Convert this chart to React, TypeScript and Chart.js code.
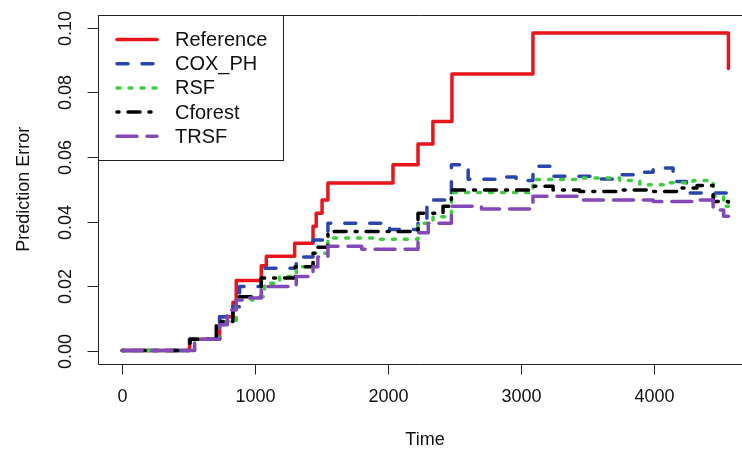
import React, { useEffect, useRef } from 'react';
import { Chart, registerables } from 'chart.js';

Chart.register(...registerables);

// ---- data ----
const xTicks = [0, 1000, 2000, 3000, 4000];
const yTicks = [0, 0.02, 0.04, 0.06, 0.08, 0.1];
const yTickLabels = ['0.00', '0.02', '0.04', '0.06', '0.08', '0.10'];
const seriesNames = ['Reference', 'COX_PH', 'RSF', 'Cforest', 'TRSF'];

const refTime = [0, 506, 732, 832, 857, 1045, 1083, 1296, 1434, 1458, 1502, 1546, 2035, 2223, 2335, 2478, 3087, 4526, 4556];
const refError = [0, 0.0035, 0.0105, 0.015, 0.0217, 0.0263, 0.0292, 0.0333, 0.0385, 0.0426, 0.0467, 0.0519, 0.0576, 0.064, 0.071, 0.0857, 0.0984, 0.0984, 0.0874];

const coxTime = [0, 506, 732, 832, 882, 1045, 1308, 1434, 1546, 2010, 2223, 2290, 2336, 2474, 2600, 2860, 2960, 3087, 3238, 3589, 3739, 3890, 3990, 4140, 4240, 4556];
const coxError = [0, 0.0035, 0.0105, 0.0136, 0.0199, 0.0255, 0.029, 0.0343, 0.0395, 0.0375, 0.041, 0.0445, 0.0467, 0.0576, 0.0531, 0.0538, 0.0527, 0.0571, 0.054, 0.0532, 0.0545, 0.0553, 0.0566, 0.0524, 0.0488, 0.0483];

const rsfTime = [0, 544, 732, 857, 982, 1070, 1183, 1308, 1434, 1546, 1935, 2223, 2336, 2474, 3087, 3438, 3739, 3890, 4090, 4290, 4441, 4520, 4556];
const rsfError = [0, 0.0035, 0.009, 0.0157, 0.0167, 0.0209, 0.023, 0.026, 0.0302, 0.0349, 0.0345, 0.0395, 0.0415, 0.049, 0.053, 0.0535, 0.0527, 0.0514, 0.052, 0.0527, 0.0478, 0.0447, 0.0447];

const cforestTime = [0, 510, 707, 832, 857, 1045, 1300, 1434, 1470, 1546, 2223, 2411, 2474, 3087, 3238, 3438, 3739, 3990, 4190, 4320, 4441, 4556];
const cforestError = [0, 0.0035, 0.009, 0.0135, 0.0167, 0.0225, 0.026, 0.0302, 0.032, 0.0369, 0.0426, 0.0447, 0.0498, 0.0509, 0.0498, 0.0493, 0.0498, 0.0493, 0.0504, 0.0512, 0.0462, 0.046];

const trsfTime = [0, 544, 732, 790, 857, 900, 1045, 1308, 1434, 1470, 1546, 1800, 2223, 2300, 2474, 2700, 3087, 3438, 3990, 4290, 4441, 4520, 4556];
const trsfError = [0, 0.0035, 0.008, 0.0126, 0.0157, 0.0163, 0.0199, 0.023, 0.026, 0.029, 0.0323, 0.0314, 0.0365, 0.0395, 0.0447, 0.0439, 0.0478, 0.0467, 0.0462, 0.0467, 0.0436, 0.0416, 0.0416];

const seriesTimes = [refTime, coxTime, rsfTime, cforestTime, trsfTime];
const seriesErrors = [refError, coxError, rsfError, cforestError, trsfError];

// ---- styles ----
const colors = ['#e8161c', '#2a45b0', '#3fcc3f', '#000000', '#8448b8'];
const dashes: number[][] = [[], [11, 14], [3, 9], [2, 9, 12, 9], [20, 10]];
const LW = 3.5;
const FONT = '"Liberation Sans", Arial, Helvetica, sans-serif';

const rPlugin = {
  id: 'rStyle',
  afterDraw(chart: any) {
    const { ctx, chartArea, scales } = chart;
    const xs = scales.x;
    const ys = scales.y;
    const L = Math.round(chartArea.left) + 0.5;
    const T = Math.round(chartArea.top) + 0.5;
    const B = Math.round(chartArea.bottom) + 0.5;
    const R = chartArea.right + 5;
    ctx.save();
    // box (right side falls outside the canvas)
    ctx.strokeStyle = '#222';
    ctx.lineWidth = 1;
    ctx.setLineDash([]);
    ctx.beginPath();
    ctx.moveTo(R, T);
    ctx.lineTo(L, T);
    ctx.lineTo(L, B);
    ctx.lineTo(R, B);
    ctx.stroke();

    // x ticks
    ctx.fillStyle = '#111';
    ctx.font = `18px ${FONT}`;
    ctx.textAlign = 'center';
    ctx.textBaseline = 'middle';
    xTicks.forEach((t) => {
      const px = Math.round(xs.getPixelForValue(t)) + 0.5;
      ctx.beginPath();
      ctx.moveTo(px, B);
      ctx.lineTo(px, B + 10);
      ctx.stroke();
      ctx.fillText(String(t), px, 397);
    });
    // y ticks
    yTicks.forEach((v, i) => {
      const py = Math.round(ys.getPixelForValue(v)) + 0.5;
      ctx.beginPath();
      ctx.moveTo(L, py);
      ctx.lineTo(L - 11, py);
      ctx.stroke();
      ctx.save();
      ctx.translate(66, py);
      ctx.rotate(-Math.PI / 2);
      ctx.fillText(yTickLabels[i], 0, 0);
      ctx.restore();
    });
    // axis titles
    ctx.fillText('Time', 425, 440);
    ctx.save();
    ctx.translate(24, (chartArea.top + chartArea.bottom) / 2);
    ctx.rotate(-Math.PI / 2);
    ctx.fillText('Prediction Error', 0, 0);
    ctx.restore();

    // legend
    const lx = L, ly = T, lw = 185, lh = 145;
    ctx.fillStyle = '#fff';
    ctx.fillRect(lx, ly, lw, lh);
    ctx.strokeStyle = '#222';
    ctx.lineWidth = 1;
    ctx.strokeRect(lx, ly, lw, lh);
    ctx.font = `20px ${FONT}`;
    ctx.textAlign = 'left';
    seriesNames.forEach((name, i) => {
      const yy = 39.5 + i * 24.2;
      ctx.strokeStyle = colors[i];
      ctx.lineWidth = LW;
      ctx.lineCap = 'round';
      ctx.setLineDash(dashes[i]);
      ctx.beginPath();
      ctx.moveTo(117, yy);
      ctx.lineTo(157, yy);
      ctx.stroke();
      ctx.setLineDash([]);
      ctx.fillStyle = '#111';
      ctx.fillText(name, 175, yy + 1);
    });
    ctx.restore();
  },
};

export default function App() {
  const ref = useRef<HTMLCanvasElement | null>(null);
  useEffect(() => {
    if (!ref.current) return;
    const datasets = seriesNames.map((name, i) => ({
      label: name,
      data: seriesTimes[i].map((t, j) => ({ x: t, y: seriesErrors[i][j] })),
      borderColor: colors[i],
      backgroundColor: colors[i],
      borderWidth: LW,
      borderDash: dashes[i],
      borderCapStyle: 'round' as const,
      borderJoinStyle: 'round' as const,
      pointRadius: 0,
      stepped: 'before' as const,
      fill: false,
      order: seriesNames.length - i,
    }));
    const chart = new Chart(ref.current, {
      type: 'line',
      data: { datasets },
      options: {
        animation: false,
        responsive: false,
        devicePixelRatio: 1,
        layout: { padding: { left: 98, right: 0, top: 15, bottom: 85.5 } },
        plugins: { legend: { display: false }, tooltip: { enabled: false } },
        scales: {
          x: { type: 'linear', min: -182, max: 4658, display: false },
          y: { type: 'linear', min: -0.004, max: 0.104, display: false },
        },
      },
      plugins: [rPlugin],
    });
    return () => chart.destroy();
  }, []);
  return (
    <div style={{ position: 'fixed', left: 0, top: 0, width: 742, height: 449, background: '#fff' }}>
      <canvas ref={ref} width={742} height={449} style={{ width: 742, height: 449 }} />
    </div>
  );
}
